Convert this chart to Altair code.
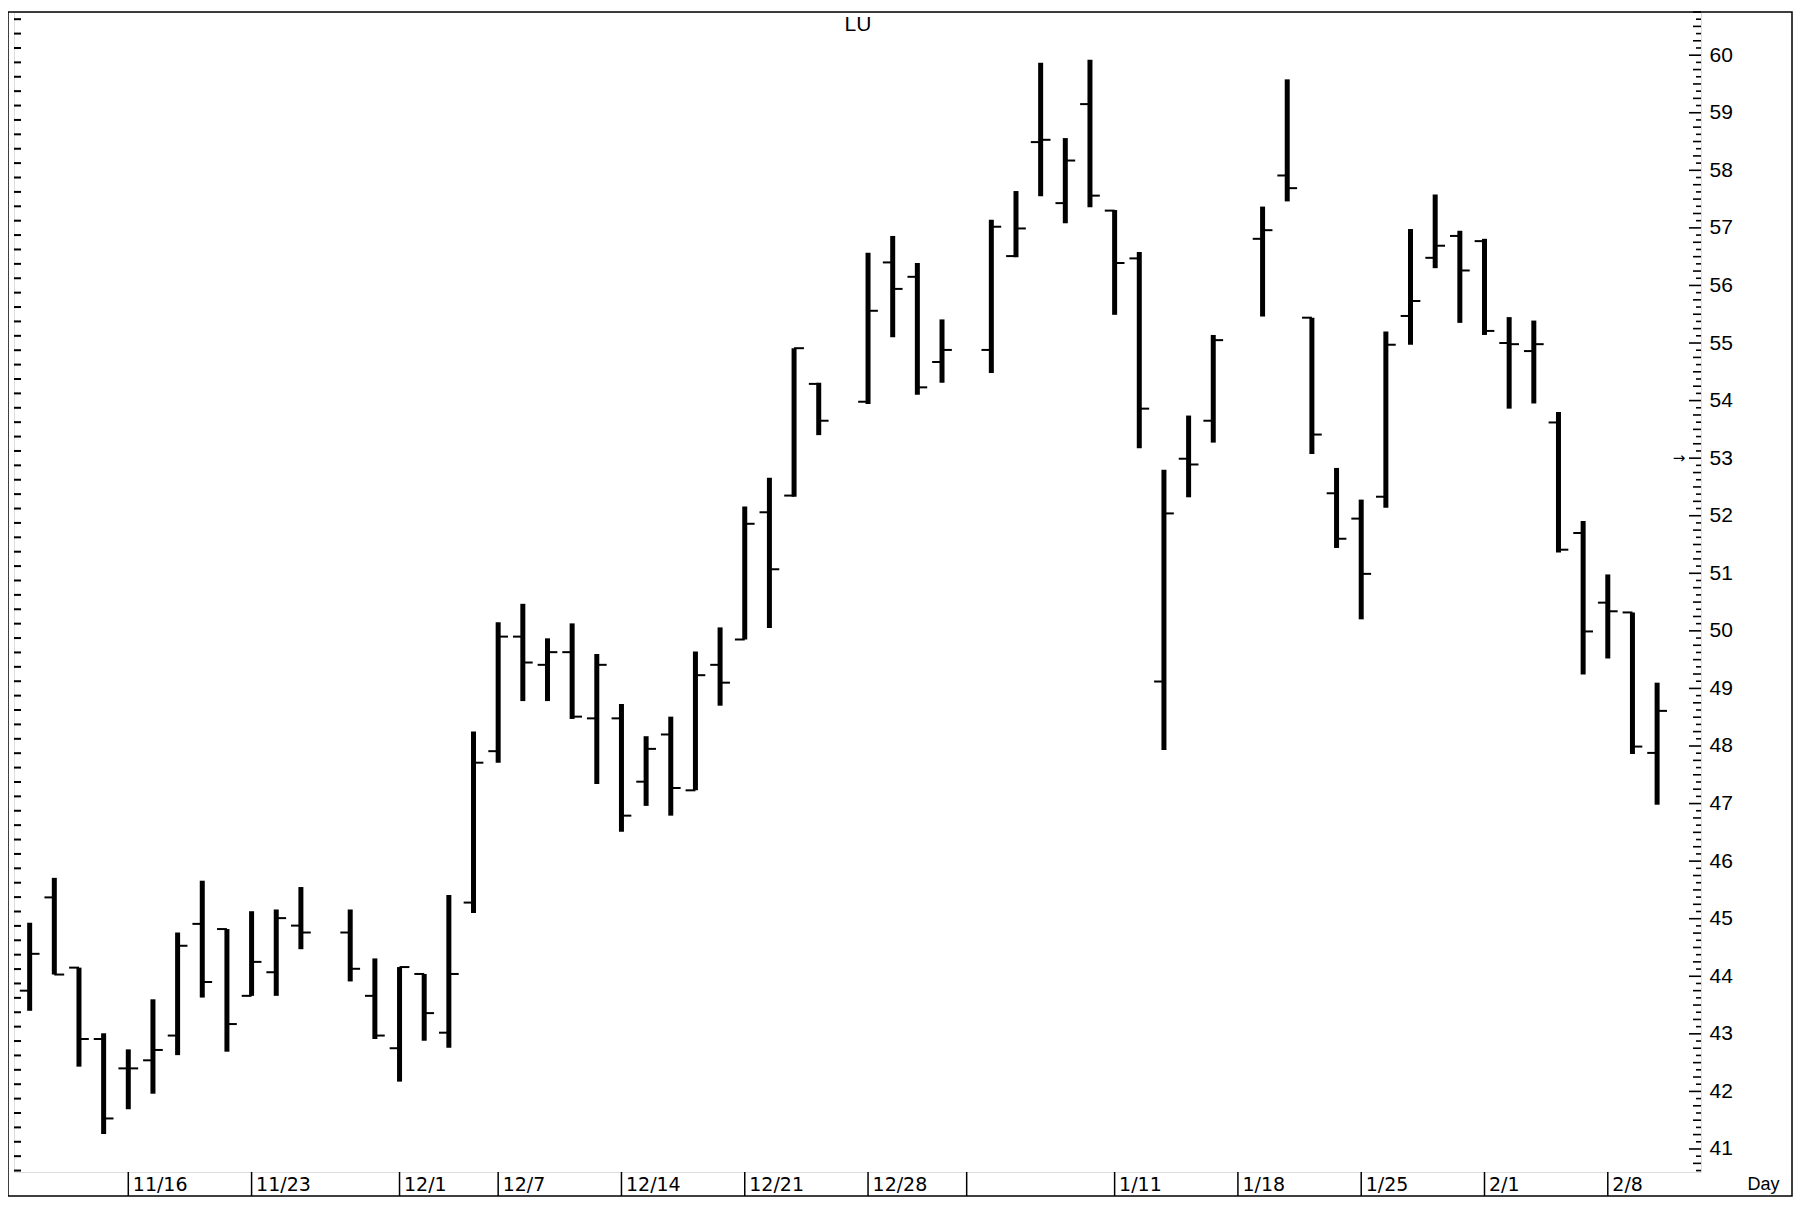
import altair as alt
import pandas as pd
import numpy as np

# ---------------- data ----------------
dates = ["1998-11-10", "1998-11-11", "1998-11-12", "1998-11-13",
         "1998-11-16", "1998-11-17", "1998-11-18", "1998-11-19", "1998-11-20",
         "1998-11-23", "1998-11-24", "1998-11-25", "1998-11-27",
         "1998-11-30", "1998-12-01", "1998-12-02", "1998-12-03", "1998-12-04",
         "1998-12-07", "1998-12-08", "1998-12-09", "1998-12-10", "1998-12-11",
         "1998-12-14", "1998-12-15", "1998-12-16", "1998-12-17", "1998-12-18",
         "1998-12-21", "1998-12-22", "1998-12-23", "1998-12-24",
         "1998-12-28", "1998-12-29", "1998-12-30", "1998-12-31",
         "1999-01-04", "1999-01-05", "1999-01-06", "1999-01-07", "1999-01-08",
         "1999-01-11", "1999-01-12", "1999-01-13", "1999-01-14", "1999-01-15",
         "1999-01-19", "1999-01-20", "1999-01-21", "1999-01-22",
         "1999-01-25", "1999-01-26", "1999-01-27", "1999-01-28", "1999-01-29",
         "1999-02-01", "1999-02-02", "1999-02-03", "1999-02-04", "1999-02-05",
         "1999-02-08", "1999-02-09", "1999-02-10"]

opens = [43.75, 45.37, 44.15, 42.91,
         42.40, 42.54, 42.97, 44.91, 44.82,
         43.66, 44.07, 44.88, 44.76,
         43.66, 42.75, 44.04, 43.02, 45.28,
         47.91, 49.90, 49.41, 49.63, 48.48,
         48.48, 47.38, 48.20, 47.23, 49.41,
         49.85, 52.06, 52.35, 54.29,
         53.98, 56.40, 56.15, 54.67,
         54.88, 56.51, 58.49, 57.43, 59.15,
         57.30, 56.47, 49.12, 52.99, 53.65,
         56.81, 57.91, 55.44, 52.39,
         51.95, 52.33, 55.47, 56.48, 56.86,
         56.77, 55.00, 54.86, 53.62, 51.70,
         50.49, 50.32, 47.88]

highs = [44.93, 45.71, 44.15, 43.01,
         42.73, 43.60, 44.76, 45.66, 44.82,
         45.13, 45.16, 45.55, 45.16,
         44.31, 44.16, 44.04, 45.41, 48.25,
         50.15, 50.47, 49.87, 50.13, 49.60,
         48.73, 48.17, 48.51, 49.64, 50.06,
         52.16, 52.66, 54.91, 54.31,
         56.57, 56.86, 56.39, 55.41,
         57.14, 57.64, 59.87, 58.56, 59.92,
         57.31, 56.58, 52.80, 53.74, 55.14,
         57.37, 59.58, 55.44, 52.83,
         52.28, 55.20, 56.98, 57.58, 56.95,
         56.81, 55.45, 55.39, 53.80, 51.91,
         50.98, 50.32, 49.10]

lows = [43.40, 44.03, 42.43, 41.26,
        41.69, 41.96, 42.63, 43.63, 42.69,
        43.66, 43.66, 44.47, 43.91,
        42.91, 42.17, 42.88, 42.76, 45.10,
        47.71, 48.78, 48.78, 48.47, 47.34,
        46.51, 46.96, 46.79, 47.23, 48.70,
        49.85, 50.05, 52.33, 53.40,
        53.94, 55.10, 54.10, 54.31,
        54.48, 56.49, 57.55, 57.08, 57.36,
        55.49, 53.17, 47.93, 52.32, 53.27,
        55.46, 57.46, 53.07, 51.44,
        50.20, 52.14, 54.97, 56.30, 55.35,
        55.14, 53.86, 53.95, 51.36, 49.24,
        49.52, 47.86, 46.98]

closes = [44.39, 44.03, 42.91, 41.53,
          42.40, 42.72, 44.53, 43.90, 43.17,
          44.25, 45.01, 44.76, 44.13,
          42.97, 44.16, 43.36, 44.04, 47.71,
          49.90, 49.45, 49.63, 48.51, 49.41,
          46.79, 47.95, 47.27, 49.23, 49.10,
          51.86, 51.07, 54.91, 53.65,
          55.56, 55.94, 54.23, 54.88,
          57.02, 56.99, 58.53, 58.17, 57.56,
          56.39, 53.86, 52.04, 52.89, 55.05,
          56.96, 57.69, 53.41, 51.60,
          50.99, 54.97, 55.73, 56.69, 56.26,
          55.21, 54.98, 54.98, 51.41, 49.99,
          50.34, 47.99, 48.61]

label_dates = ["1998-11-16", "1998-11-23", "1998-12-01", "1998-12-07",
               "1998-12-14", "1998-12-21", "1998-12-28", "1999-01-01",
               "1999-01-11", "1999-01-18", "1999-01-25", "1999-02-01",
               "1999-02-08"]
label_texts = ["11/16", "11/23", "12/1", "12/7", "12/14", "12/21", "12/28", "",
               "1/11", "1/18", "1/25", "2/1", "2/8"]
y_labels = list(range(41, 61))
marker_price = 53
title_text = "LU"
x_title = "Day"

# ---------------- layout ----------------
W, H = 1687, 1160
STRIP = 24
base_day = "1998-11-16"

def slot(ds):
    # weekday slot index relative to the first labelled Monday
    return np.busday_count(np.datetime64(base_day, "D"),
                           np.array(ds, dtype="datetime64[D]")).astype(int)

df = pd.DataFrame({"date": dates, "k": slot(dates), "open": opens,
                   "high": highs, "low": lows, "close": closes})
label_ks = [int(v) for v in slot(label_dates)]
sep_df = pd.DataFrame({"k": label_ks})

expr = "''"
for kv, t in reversed(list(zip(label_ks, label_texts))):
    expr = f"datum.value == {kv} ? '{t}' : ({expr})"

xs = alt.Scale(domain=[-4.635, 63.78], nice=False, zero=False)
ys = alt.Scale(domain=[40.60, 60.75], nice=False, zero=False)

x_axis = alt.Axis(values=label_ks, labelExpr=expr, ticks=False, grid=False,
                  domain=False, labelAlign="left", labelOffset=4,
                  labelPadding=12, labelBaseline="middle",
                  labelFont="DejaVu Sans", labelFontSize=19, labelColor="black",
                  labelOverlap=False, labelFlush=False, labelBound=False,
                  title=x_title, titleX=W + 46, titleY=12, titleAlign="left",
                  titleBaseline="middle", titleFont="Liberation Sans",
                  titleFontSize=18, titleFontWeight="normal", titleColor="black")
y_axis = alt.Axis(orient="right", values=y_labels, ticks=False, domain=False,
                  grid=False, labelPadding=8, labelFont="Liberation Sans",
                  labelFontSize=21, labelColor="black", title=None)

base = alt.Chart(df)

bars = base.mark_rule(color="black", strokeWidth=5, strokeCap="butt").encode(
    x=alt.X("k:Q", scale=xs, axis=x_axis),
    y=alt.Y("low:Q", scale=ys, axis=y_axis),
    y2="high:Q",
)

open_ticks = base.transform_calculate(k0="datum.k - 0.4").mark_rule(
    color="black", strokeWidth=2, strokeCap="butt").encode(
    x=alt.X("k0:Q", scale=xs, axis=x_axis), x2="k:Q",
    y=alt.Y("open:Q", scale=ys, axis=y_axis))

close_ticks = base.transform_calculate(k1="datum.k + 0.4").mark_rule(
    color="black", strokeWidth=2, strokeCap="butt").encode(
    x=alt.X("k:Q", scale=xs, axis=x_axis), x2="k1:Q",
    y=alt.Y("close:Q", scale=ys, axis=y_axis))

# price ruler on the right edge (ticks pointing into the plot)
eighths = np.arange(40.625, 60.751, 0.125)
is_int = np.isclose(eighths % 1, 0) | np.isclose(eighths % 1, 1)
is_q = (np.isclose(eighths % 0.25, 0) | np.isclose(eighths % 0.25, 0.25)) & ~is_int
ruler_major = pd.DataFrame({"v": eighths[is_int]})
ruler_quarter = pd.DataFrame({"v": eighths[is_q]})
ruler_eighth = pd.DataFrame({"v": eighths[~is_int & ~is_q]})


def ruler_layer(d, length, x0=None, sw=1.6):
    start = (W - length) if x0 is None else x0
    end = W if x0 is None else x0 + length
    return alt.Chart(d).mark_rule(color="black", strokeWidth=sw).encode(
        x=alt.value(start), x2=alt.value(end),
        y=alt.Y("v:Q", scale=ys, axis=y_axis))


right_major = ruler_layer(ruler_major, 12)
right_quarter = ruler_layer(ruler_quarter, 8)
right_eighth = ruler_layer(ruler_eighth, 5)

left_df = pd.DataFrame({"v": np.arange(40.625, 60.75, 0.25)})
left_ticks = ruler_layer(left_df, 7, x0=0, sw=2)

separators = alt.Chart(sep_df).mark_rule(color="black", strokeWidth=1.5).encode(
    x=alt.X("k:Q", scale=xs, axis=x_axis), y=alt.value(H), y2=alt.value(H + STRIP))

one = pd.DataFrame({"d": [0]})
frame = alt.Chart(one).mark_rect(fill=None, stroke="black", strokeWidth=1.5).encode(
    x=alt.value(-6), x2=alt.value(W + 91), y=alt.value(0), y2=alt.value(H + STRIP))

marker = alt.Chart(pd.DataFrame({"p": [marker_price]})).mark_text(
    text="→", font="DejaVu Sans", fontSize=15, color="black", align="center",
    baseline="middle").encode(
    x=alt.value(W - 22), y=alt.Y("p:Q", scale=ys, axis=y_axis))

title = alt.Chart(one).mark_text(
    text=title_text, font="Liberation Sans", fontSize=21, color="black",
    align="center", baseline="middle").encode(x=alt.value(844), y=alt.value(13))

chart = alt.layer(bars, open_ticks, close_ticks, separators, left_ticks,
                  right_major, right_quarter, right_eighth, marker, title,
                  frame).properties(
    width=W, height=H, autosize="none",
    padding={"left": 6, "top": 4, "right": 92, "bottom": 26},
).configure_view(stroke="black", strokeWidth=2).configure(background="white")

chart.save("out.html", embed_options={"renderer": "svg", "actions": False})
